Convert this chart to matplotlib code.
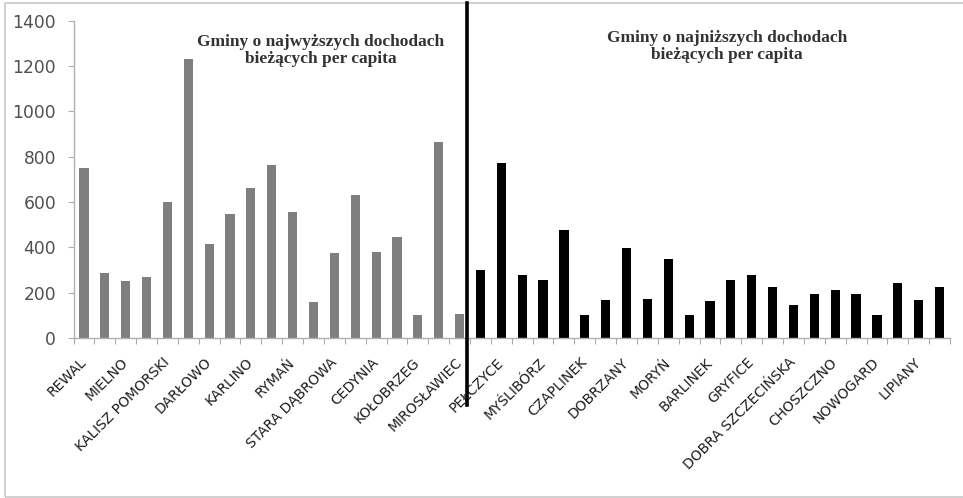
import numpy as np
import matplotlib.pyplot as plt
from matplotlib.lines import Line2D
from matplotlib.patches import Rectangle

# gminy o najwyzszych dochodach (szare) i najnizszych (czarne)
wysokie = [752, 287, 252, 270, 599, 1233, 414, 549, 664, 764,
           557, 158, 377, 633, 380, 445, 100, 867, 107]
niskie = [299, 770, 280, 255, 476, 103, 166, 395, 174, 350, 103, 162,
          258, 280, 225, 144, 193, 211, 193, 103, 244, 166, 225]

etykiety = ["REWAL", "MIELNO", "KALISZ POMORSKI", "DARŁOWO", "KARLINO", "RYMAŃ",
            "STARA DĄBROWA", "CEDYNIA", "KOŁOBRZEG", "MIROSŁAWIEC",
            "PEŁCZYCE", "MYŚLIBÓRZ", "CZAPLINEK", "DOBRZANY", "MORYŃ", "BARLINEK",
            "GRYFICE", "DOBRA SZCZECIŃSKA", "CHOSZCZNO", "NOWOGARD", "LIPIANY"]

wartosci = wysokie + niskie
n = len(wartosci)
x = np.arange(n)
kolory = ["#7f7f7f"] * len(wysokie) + ["black"] * len(niskie)

fig = plt.figure(figsize=(9.63, 4.98), dpi=100)
ax = fig.add_axes([73.5/963, 1-338/498, (950-73.5)/963, (338-20.7)/498])

ax.bar(x, wartosci, width=0.44, color=kolory, zorder=2)

ax.set_xlim(-0.5, n-0.5)
ax.set_ylim(0, 1400)
ax.set_yticks(range(0, 1401, 200))
ax.tick_params(axis="y", labelsize=12.3, labelcolor="#505050", length=4, width=0.8,
               pad=8.5, color="#b0b0b0")

ax.set_xticks(x[::2])
ax.set_xticklabels(etykiety, rotation=45, ha="right", va="center", rotation_mode="anchor",
                   fontsize=10, color="#1e1e1e")
ax.tick_params(axis="x", length=0, pad=16)
ax.set_xticks(np.arange(-0.5, n, 1), minor=True)
ax.tick_params(axis="x", which="minor", length=4, width=0.8, color="#aaaaaa")

for s in ["top", "right"]:
    ax.spines[s].set_visible(False)
for s in ["left", "bottom"]:
    ax.spines[s].set_color("#b0b0b0")
    ax.spines[s].set_linewidth(1.0)

ax.text(11.35, 1270, "Gminy o najwyższych dochodach\nbieżących per capita",
        ha="center", va="center", family="Liberation Serif", fontweight="bold",
        fontsize=12.5, color="#333333", linespacing=1.1)
ax.text(30.8, 1286, "Gminy o najniższych dochodach\nbieżących per capita",
        ha="center", va="center", family="Liberation Serif", fontweight="bold",
        fontsize=12.5, color="#333333", linespacing=1.1)

# linia podzialu
fig.add_artist(Line2D([467/963, 467/963], [1-3/498, 1-405/498],
                      color="black", lw=2.6, transform=fig.transFigure))
# ramka
fig.add_artist(Rectangle((5/963, 1-497/498), 1.0, 494/498, transform=fig.transFigure,
                         fill=False, edgecolor="#c8c8c8", lw=1.2))

fig.savefig("out.png", dpi=100)
